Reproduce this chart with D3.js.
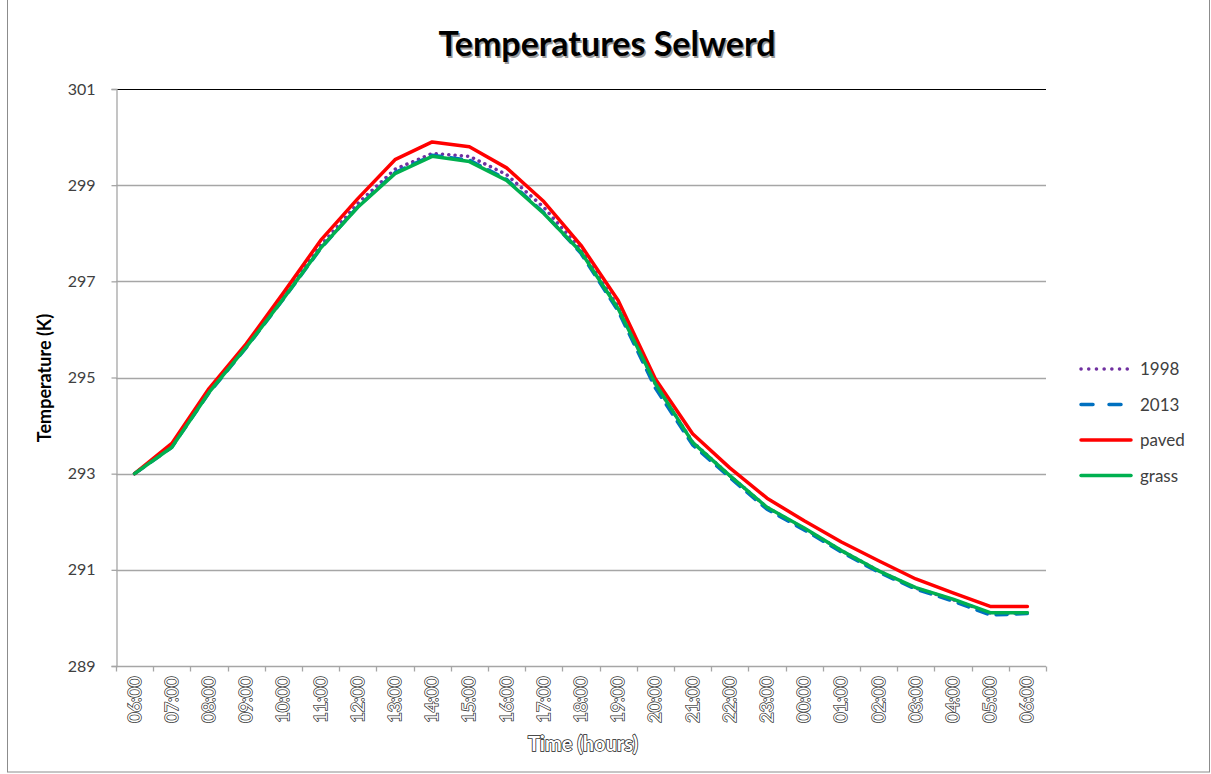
<!DOCTYPE html>
<html>
<head>
<meta charset="utf-8">
<script src="https://cdn.jsdelivr.net/npm/d3@7"></script>
<style>
  html, body { margin: 0; padding: 0; background: #fff; }
  svg { display: block; }
</style>
</head>
<body>
<svg id="chart" width="1211" height="774"></svg>
<script>
// Hourly categories, 06:00 through 06:00 next morning
const hours = ["06:00","07:00","08:00","09:00","10:00","11:00","12:00","13:00","14:00","15:00","16:00","17:00",
               "18:00","19:00","20:00","21:00","22:00","23:00","00:00","01:00","02:00","03:00","04:00","05:00","06:00"];

// Temperatures in kelvin per hour
const t1998  = [293.0,293.57,294.71,295.65,296.68,297.74,298.62,299.33,299.66,299.60,299.22,298.54,
                297.66,296.47,294.86,293.66,292.96,292.30,291.86,291.40,290.98,290.62,290.38,290.10,290.10];
const t2013  = [293.0,293.55,294.68,295.62,296.63,297.68,298.55,299.26,299.62,299.52,299.12,298.43,
                297.58,296.38,294.78,293.60,292.92,292.26,291.83,291.37,290.95,290.60,290.35,290.06,290.09];
const tPaved = [293.0,293.63,294.77,295.70,296.76,297.85,298.72,299.53,299.90,299.80,299.36,298.66,
                297.75,296.60,294.97,293.83,293.12,292.49,292.02,291.58,291.19,290.81,290.52,290.24,290.24];
const tGrass = [293.0,293.55,294.69,295.63,296.64,297.69,298.54,299.24,299.60,299.49,299.10,298.41,
                297.61,296.43,294.87,293.65,292.96,292.30,291.87,291.40,290.98,290.63,290.39,290.11,290.11];

const yTicks = [289, 291, 293, 295, 297, 299, 301];

const seriesNames = ["1998", "2013", "paved", "grass"];
const seriesData  = [t1998, t2013, tPaved, tGrass];

const styles = {
  "1998":  { color: "#7030A0", width: 3.5, dash: "0.1,6.2", cap: "round" },
  "2013":  { color: "#0070C0", width: 3.5, dash: "11,9",    cap: "round" },
  "paved": { color: "#FF0000", width: 3.5, dash: null,      cap: "round" },
  "grass": { color: "#00B050", width: 3.5, dash: null,      cap: "round" }
};

const svg = d3.select("#chart");
const font = "Lato, 'Open Sans', 'Liberation Sans', sans-serif";

// Outer chart frame
svg.append("rect")
  .attr("x", 7.5).attr("y", -1).attr("width", 1202).attr("height", 773)
  .attr("fill", "none").attr("stroke", "#8c8c8c").attr("stroke-width", 1);

const plot = { left: 116, right: 1046, top: 89, bottom: 666 };

const x = d3.scaleBand()
  .domain(d3.range(hours.length))
  .range([plot.left, plot.right])
  .paddingInner(0).paddingOuter(0);

const y = d3.scaleLinear()
  .domain([289, 301])
  .range([plot.bottom, plot.top]);

// Horizontal gridlines
svg.append("g")
  .selectAll("line")
  .data(yTicks.slice(1))
  .join("line")
  .attr("x1", plot.left).attr("x2", plot.right)
  .attr("y1", d => Math.round(y(d)) + 0.5).attr("y2", d => Math.round(y(d)) + 0.5)
  .attr("stroke", d => d === 301 ? "#000" : "#a6a6a6")
  .attr("stroke-width", d => d === 301 ? 1.2 : 1.3);

// Y axis
const yAxis = svg.append("g")
  .attr("transform", `translate(${plot.left + 0.5},0)`)
  .call(d3.axisLeft(y).tickValues(yTicks).tickSize(5).tickPadding(16).tickFormat(d3.format("d")));
yAxis.select(".domain").attr("stroke", "#a6a6a6").attr("stroke-width", 1.3);
yAxis.selectAll(".tick line").attr("stroke", "#a6a6a6").attr("stroke-width", 1.3);
yAxis.selectAll(".tick text")
  .attr("font-family", font).attr("font-size", 16).attr("fill", "#404040");

// X axis: ticks on category boundaries, labels at category centres
const xAxisG = svg.append("g").attr("transform", `translate(0,${plot.bottom + 0.5})`);
xAxisG.append("line")
  .attr("x1", plot.left).attr("x2", plot.right)
  .attr("stroke", "#a6a6a6").attr("stroke-width", 1.3);
const boundaries = d3.range(hours.length + 1).map(i => i < hours.length ? x(i) : x(hours.length - 1) + x.bandwidth());
xAxisG.selectAll("line.tk")
  .data(boundaries)
  .join("line").attr("class", "tk")
  .attr("x1", d => Math.round(d) + 0.5).attr("x2", d => Math.round(d) + 0.5)
  .attr("y1", 0).attr("y2", 5)
  .attr("stroke", "#a6a6a6").attr("stroke-width", 1.3);

const xLabels = xAxisG.selectAll("g.lbl")
  .data(hours)
  .join("g").attr("class", "lbl")
  .attr("transform", (d, i) => `translate(${x(i) + x.bandwidth() / 2 + 6},10) rotate(-90)`);
xLabels.append("text")
  .attr("text-anchor", "end")
  .attr("font-family", font).attr("font-size", 18)
  .attr("fill", "#fff").attr("stroke", "#333").attr("stroke-width", 1.5)
  .attr("paint-order", "stroke")
  .text(d => d);

// Series lines
const line = d3.line()
  .x((d, i) => x(i) + x.bandwidth() / 2)
  .y(d => y(d));

svg.append("g")
  .selectAll("path")
  .data(seriesNames.map((n, k) => ({ name: n, values: seriesData[k] })))
  .join("path")
  .attr("d", d => line(d.values))
  .attr("fill", "none")
  .attr("stroke", d => styles[d.name].color)
  .attr("stroke-width", d => styles[d.name].width)
  .attr("stroke-dasharray", d => styles[d.name].dash)
  .attr("stroke-linecap", d => styles[d.name].cap)
  .attr("stroke-linejoin", "round");

// Legend
const legend = svg.append("g").attr("transform", "translate(1081,369)");
const rows = legend.selectAll("g")
  .data(seriesNames)
  .join("g")
  .attr("transform", (d, i) => `translate(0,${i * 35.5})`);
rows.append("line")
  .attr("x1", 0).attr("x2", 50).attr("y1", 0).attr("y2", 0)
  .attr("stroke", d => styles[d].color)
  .attr("stroke-width", d => styles[d].width)
  .attr("stroke-dasharray", d => d === "1998" ? "0.1,7.6" : d === "2013" ? "12,16" : null)
  .attr("stroke-linecap", "round");
rows.append("text")
  .attr("x", 59).attr("y", 6)
  .attr("font-family", font).attr("font-size", 17).attr("fill", "#404040")
  .text(d => d);

// Title with soft drop shadow
const titleX = 607, titleY = 56;
svg.append("text")
  .attr("x", titleX + 1.5).attr("y", titleY + 1.5)
  .attr("text-anchor", "middle")
  .attr("font-family", font).attr("font-weight", "bold").attr("font-size", 34)
  .attr("fill", "#9a9a9a")
  .text("Temperatures Selwerd");
svg.append("text")
  .attr("x", titleX).attr("y", titleY)
  .attr("text-anchor", "middle")
  .attr("font-family", font).attr("font-weight", "bold").attr("font-size", 34)
  .attr("fill", "#000")
  .text("Temperatures Selwerd");

// Axis titles
svg.append("text")
  .attr("transform", "translate(51,378) rotate(-90)")
  .attr("text-anchor", "middle")
  .attr("font-family", font).attr("font-weight", "bold").attr("font-size", 18)
  .attr("fill", "#000")
  .text("Temperature (K)");

svg.append("text")
  .attr("x", 583).attr("y", 751)
  .attr("text-anchor", "middle")
  .attr("font-family", font).attr("font-weight", "bold").attr("font-size", 20)
  .attr("fill", "#fff").attr("stroke", "#222").attr("stroke-width", 1.5)
  .attr("paint-order", "stroke")
  .text("Time (hours)");
</script>
</body>
</html>
